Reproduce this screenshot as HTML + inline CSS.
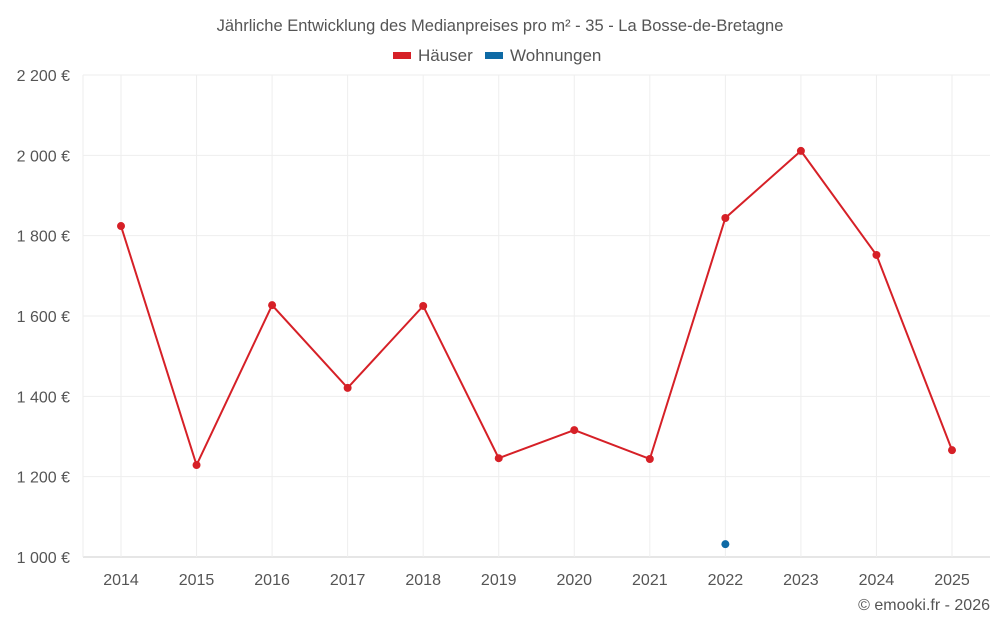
<!DOCTYPE html>
<html><head><meta charset="utf-8"><style>
body{margin:0;background:#fff;font-family:"Liberation Sans",sans-serif;}
svg text{font-family:"Liberation Sans",sans-serif;}
</style></head><body>
<svg id="chart" width="1000" height="625" xmlns="http://www.w3.org/2000/svg">
<text x="500" y="31" text-anchor="middle" font-size="16.5" fill="#555">Jährliche Entwicklung des Medianpreises pro m² - 35 - La Bosse-de-Bretagne</text>
<g>
<g><rect x="393" y="52" width="18" height="7" fill="#d62027"/><text x="418" y="61" font-size="17" fill="#555">Häuser</text></g>
<g><rect x="485" y="52" width="18" height="7" fill="#0e6aa5"/><text x="510" y="61" font-size="17" fill="#555">Wohnungen</text></g>
</g>
<g id="grid"></g><g id="axes"></g><g id="series"></g>
<text x="990" y="610" text-anchor="end" font-size="16" fill="#555">© emooki.fr - 2026</text>
</svg>
<script>
const years=[2014,2015,2016,2017,2018,2019,2020,2021,2022,2023,2024,2025];
const haeuser=[1824,1229,1627,1421,1625,1246,1316,1244,1844,2011,1752,1266];
const wohnungen=[null,null,null,null,null,null,null,null,1032,null,null,null];
const yTicks=[1000,1200,1400,1600,1800,2000,2200];
const yTickLabels=["1 000 €","1 200 €","1 400 €","1 600 €","1 800 €","2 000 €","2 200 €"];
const NS="http://www.w3.org/2000/svg";
const plotLeft=83,plotRight=990,plotTop=75,plotBottom=557;
const xPos=i=>121+i*(952-121)/(years.length-1);
const yPos=v=>plotBottom-(v-1000)/1200*(plotBottom-plotTop);
function mk(tag,attrs,parent){const e=document.createElementNS(NS,tag);for(const k in attrs)e.setAttribute(k,attrs[k]);document.getElementById(parent).appendChild(e);return e;}
yTicks.forEach((t,i)=>{
 const l=mk('line',{x1:plotLeft,x2:plotRight,y1:yPos(t),y2:yPos(t),stroke:i==0?'#ccc':'#eee'},'grid');
 
 
 const tx=mk('text',{x:70,y:yPos(t)+6,'text-anchor':'end','font-size':16,fill:'#555'},'axes');
 tx.textContent=yTickLabels[i];
 
 
});
mk('line',{x1:plotLeft,x2:plotLeft,y1:plotTop,y2:plotBottom,stroke:'#eee'},'grid');
years.forEach((yr,i)=>{
 const l=mk('line',{x1:xPos(i),x2:xPos(i),y1:plotTop,y2:plotBottom,stroke:'#eee'},'grid');
 
 
 const tx=mk('text',{x:xPos(i),y:585,'text-anchor':'middle','font-size':16,fill:'#555'},'axes');
 tx.textContent=yr;
 
 
});
const p=mk('polyline',{points:haeuser.map((v,i)=>xPos(i)+','+yPos(v)).join(' '),fill:'none',stroke:'#d62027','stroke-width':2},'series');


haeuser.forEach((v,i)=>{
 const c=mk('circle',{cx:xPos(i),cy:yPos(v),r:4,fill:'#d62027'},'series');
 
 
});
wohnungen.forEach((v,i)=>{if(v==null)return;
 const c=mk('circle',{cx:xPos(i),cy:yPos(v),r:4,fill:'#0e6aa5'},'series');
 
 
});
</script>
</body></html>
